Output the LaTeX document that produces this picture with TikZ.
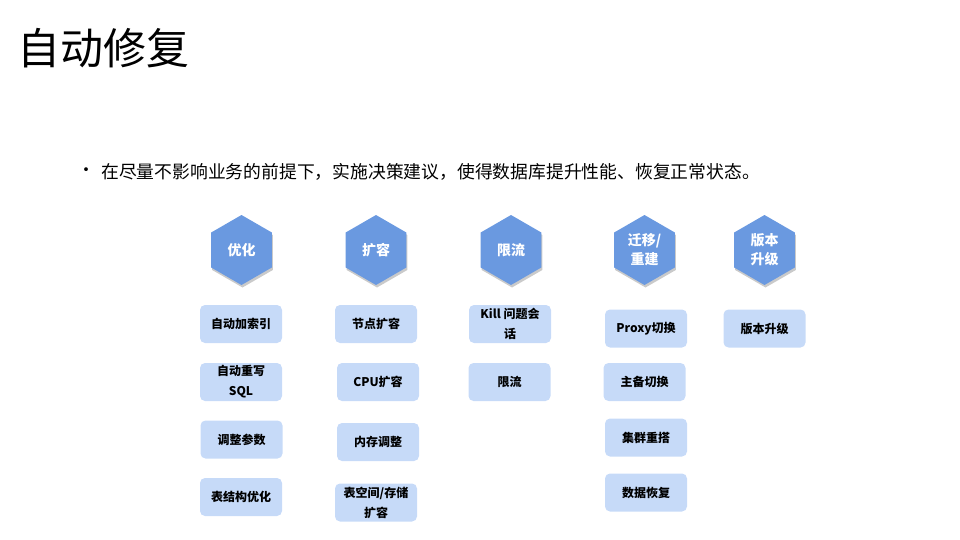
\documentclass[tikz,border=0pt]{standalone}
\usepackage{fontspec}
\setmainfont{Noto Sans CJK SC}
\usetikzlibrary{shapes.geometric,shadows}
\definecolor{hexblue}{RGB}{106,153,224}
\definecolor{boxblue}{RGB}{198,218,248}
\tikzset{
  hexnode/.style={regular polygon, regular polygon sides=6, shape border rotate=90,
    minimum size=70pt, inner sep=0pt, fill=hexblue, draw=none, text=white,
    font=\fontsize{14}{19}\selectfont\bfseries, align=center,
    drop shadow={shadow xshift=1pt, shadow yshift=-2.5pt, opacity=0.35, fill=black!60}},
  itembox/.style={rectangle, rounded corners=5pt, fill=boxblue, draw=none,
    minimum width=82pt, minimum height=38pt, inner sep=0pt, text=black,
    font=\fontsize{12}{20}\selectfont\bfseries, align=center}
}
\begin{document}
\begin{tikzpicture}[x=1pt,y=-1pt]
\useasboundingbox (0,0) rectangle (960,540);
\node[anchor=west, inner sep=0pt, font=\fontsize{43}{50}\selectfont] (title) at (17,48) {自动修复};
\node[anchor=center, inner sep=0pt, font=\fontsize{18}{20}\selectfont] (bul) at (86,172.5) {·};
\node[anchor=west, inner sep=0pt, font=\fontsize{17.8}{20}\selectfont] (intro) at (101,172) {在尽量不影响业务的前提下，实施决策建议，使得数据库提升性能、恢复正常状态。};

\node[hexnode] (h1) at (241.5,250) {优化};
\node[hexnode] (h2) at (376,250) {扩容};
\node[hexnode] (h3) at (511,250) {限流};
\node[hexnode] (h4) at (644.5,250) {迁移/\\重建};
\node[hexnode] (h5) at (764.5,250) {版本\\升级};

\node[itembox] (a1) at (241,324) {自动加索引};
\node[itembox] (a2) at (241,382) {自动重写\\SQL};
\node[itembox] (a3) at (241.5,439.5) {调整参数};
\node[itembox] (a4) at (241,497) {表结构优化};

\node[itembox] (b1) at (376,324) {节点扩容};
\node[itembox] (b2) at (378,382) {CPU扩容};
\node[itembox] (b3) at (378,442) {内存调整};
\node[itembox] (b4) at (376,502.5) {表空间/存储\\扩容};

\node[itembox] (c1) at (510,324) {Kill 问题会\\话};
\node[itembox] (c2) at (509.5,382) {限流};

\node[itembox] (d1) at (646,328.5) {Proxy切换};
\node[itembox] (d2) at (644.5,382) {主备切换};
\node[itembox] (d3) at (646,437.5) {集群重搭};
\node[itembox] (d4) at (646,492.5) {数据恢复};

\node[itembox] (e1) at (764.5,328.5) {版本升级};
\end{tikzpicture}
\end{document}
